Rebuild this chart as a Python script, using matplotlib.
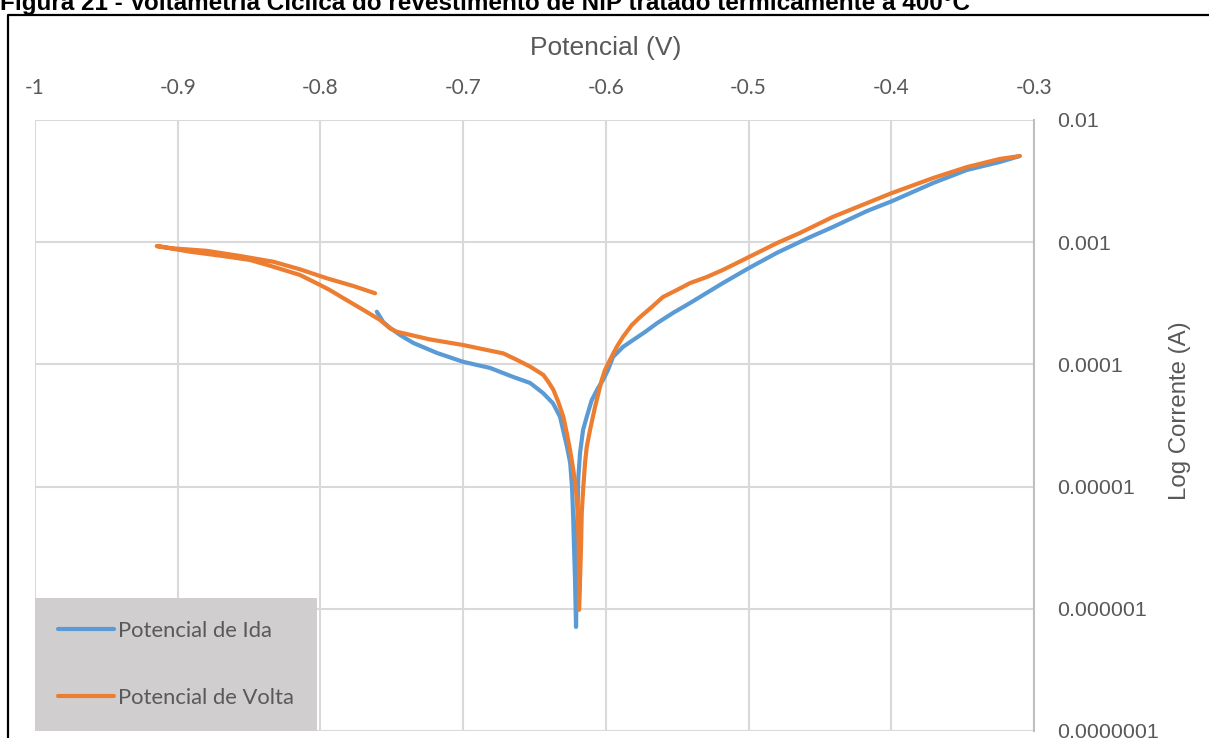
import matplotlib
matplotlib.use('Agg')
import matplotlib.pyplot as plt
from matplotlib.lines import Line2D
from matplotlib.ticker import FixedLocator, FixedFormatter

# forward sweep (ida): potential in V, current in A
ida_v = [-0.7605, -0.756, -0.7512, -0.7442, -0.735, -0.7183, -0.700, -0.6811, -0.665,
         -0.6531, -0.644, -0.637, -0.6321, -0.6272, -0.625, -0.6237, -0.623, -0.6223,
         -0.6216, -0.6209, -0.6204, -0.620, -0.6194, -0.6181, -0.616, -0.6134, -0.6099,
         -0.6055, -0.602, -0.5985, -0.595, -0.588, -0.581, -0.5726, -0.564, -0.5529,
         -0.541, -0.518, -0.4997, -0.480, -0.457, -0.441, -0.417, -0.3994, -0.3707,
         -0.347, -0.324, -0.310]
ida_i = [2.70e-4, 2.22e-4, 1.99e-4, 1.74e-4, 1.50e-4, 1.24e-4, 1.05e-4, 9.35e-5, 7.9e-5,
         7.05e-5, 5.83e-5, 4.8e-5, 3.72e-5, 2.11e-5, 1.56e-5, 9.9e-6, 6.1e-6, 3.2e-6,
         1.72e-6, 7.1e-7, 1.72e-6, 4.4e-6, 1.13e-5, 1.88e-5, 2.9e-5, 3.72e-5, 5.1e-5,
         6.4e-5, 7.45e-5, 9.0e-5, 1.15e-4, 1.39e-4, 1.58e-4, 1.84e-4, 2.18e-4, 2.64e-4,
         3.18e-4, 4.63e-4, 6.15e-4, 8.2e-4, 1.10e-3, 1.33e-3, 1.80e-3, 2.17e-3, 3.05e-3,
         3.90e-3, 4.53e-3, 5.07e-3]

# reverse sweep (volta)
volta_v = [-0.310, -0.324, -0.347, -0.3707, -0.3994, -0.417, -0.441, -0.464, -0.480,
           -0.4997, -0.518, -0.5293, -0.541, -0.5503, -0.560, -0.5678, -0.576, -0.5818,
           -0.588, -0.5924, -0.5971, -0.6006, -0.6029, -0.6076, -0.6111, -0.6134, -0.6146,
           -0.6158, -0.6169, -0.6174, -0.6181, -0.6188, -0.6188, -0.619, -0.6197, -0.6209,
           -0.6228, -0.6251, -0.6274, -0.6298, -0.6333, -0.6368, -0.6403, -0.6438, -0.6531,
           -0.6624, -0.6718, -0.6858, -0.6999, -0.7232, -0.7465, -0.7512, -0.7582, -0.7699,
           -0.7833, -0.7933, -0.8003, -0.8143, -0.8332, -0.8493, -0.8683, -0.8914, -0.9147,
           -0.9031, -0.8797, -0.8563, -0.833, -0.8143, -0.7956, -0.7769, -0.7617]
volta_i = [5.07e-3, 4.80e-3, 4.12e-3, 3.35e-3, 2.53e-3, 2.09e-3, 1.61e-3, 1.19e-3, 9.85e-4,
           7.57e-4, 5.93e-4, 5.19e-4, 4.63e-4, 4.06e-4, 3.56e-4, 2.95e-4, 2.44e-4, 2.10e-4,
           1.68e-4, 1.39e-4, 1.09e-4, 9.0e-5, 7.45e-5, 4.48e-5, 2.9e-5, 2.11e-5, 1.56e-5,
           9.9e-6, 6.1e-6, 3.2e-6, 1.72e-6, 9.8e-7, 1.72e-6, 3.2e-6, 6.1e-6, 9.4e-6,
           1.37e-5, 2.0e-5, 2.75e-5, 3.72e-5, 4.92e-5, 6.2e-5, 7.2e-5, 8.2e-5, 9.6e-5,
           1.09e-4, 1.23e-4, 1.33e-4, 1.44e-4, 1.60e-4, 1.85e-4, 1.97e-4, 2.31e-4, 2.79e-4,
           3.45e-4, 4.05e-4, 4.47e-4, 5.39e-4, 6.31e-4, 7.15e-4, 7.71e-4, 8.36e-4, 9.3e-4,
           8.9e-4, 8.5e-4, 7.71e-4, 6.92e-4, 6.0e-4, 5.07e-4, 4.38e-4, 3.82e-4]

x_ticks = [-1, -0.9, -0.8, -0.7, -0.6, -0.5, -0.4, -0.3]
x_tick_labels = ['-1', '-0.9', '-0.8', '-0.7', '-0.6', '-0.5', '-0.4', '-0.3']
y_ticks = [1e-7, 1e-6, 1e-5, 1e-4, 1e-3, 1e-2]
y_tick_labels = ['0.0000001', '0.000001', '0.00001', '0.0001', '0.001', '0.01']

TXT = '#595959'
GRID = '#D9D9D9'

fig = plt.figure(figsize=(12.09, 7.38), dpi=100)
ax = fig.add_axes([35 / 1209, 1 - 731 / 738, 999 / 1209, 611 / 738])

ax.plot(ida_v, ida_i, color='#5B9BD5', lw=3, solid_capstyle='round',
        solid_joinstyle='round', label='Potencial de Ida')
ax.plot(volta_v, volta_i, color='#ED7D31', lw=3, solid_capstyle='round',
        solid_joinstyle='round', label='Potencial de Volta')

ax.set_yscale('log')
ax.set_xlim(-1, -0.3)
ax.set_ylim(1e-7, 1e-2)

ax.xaxis.tick_top()
ax.xaxis.set_label_position('top')
ax.xaxis.set_major_locator(FixedLocator(x_ticks))
ax.xaxis.set_major_formatter(FixedFormatter(x_tick_labels))
ax.yaxis.tick_right()
ax.yaxis.set_label_position('right')
ax.yaxis.set_major_locator(FixedLocator(y_ticks))
ax.yaxis.set_major_formatter(FixedFormatter(y_tick_labels))
ax.yaxis.set_minor_locator(FixedLocator([]))

ax.tick_params(axis='x', length=0, pad=16, labelsize=15, labelcolor=TXT)
ax.tick_params(axis='y', length=0, pad=17, labelsize=15.4, labelcolor=TXT)
for lbl in ax.get_xticklabels():
    lbl.set_family('Lato')
for lbl in ax.get_yticklabels():
    lbl.set_family('Liberation Sans')

ax.set_xlabel('Potencial (V)', fontsize=19, color=TXT, family='Liberation Sans')
ax.xaxis.set_label_coords((606 - 35) / 999, (731 - 48) / 611, transform=ax.transAxes)
ax.set_ylabel('Log Corrente (A)', fontsize=17.3, color=TXT, family='Liberation Sans')
ax.yaxis.set_label_coords((1180 - 35) / 999, (731 - 411) / 611, transform=ax.transAxes)
ax.xaxis.label.set_va('center')
ax.yaxis.label.set_va('center')

ax.grid(True, color=GRID, lw=1.5)
ax.set_axisbelow(True)
for side in ['left', 'top', 'bottom']:
    ax.spines[side].set_visible(False)
ax.spines['right'].set_color('#BFBFBF')
ax.spines['right'].set_linewidth(1.5)

leg = ax.legend(loc='lower left', bbox_to_anchor=(0, 0), borderaxespad=0,
                prop={'family': 'Lato', 'size': 15.8}, handlelength=2.55, handletextpad=0.2,
                labelspacing=2.15, borderpad=1.05, fancybox=False, framealpha=1)
leg.get_frame().set_facecolor('#D0CECE')
leg.get_frame().set_edgecolor('none')
for t in leg.get_texts():
    t.set_color(TXT)

# outer frame of the figure
fig.add_artist(Line2D([8 / 1209, 8 / 1209, 1], [0, 1 - 14.5 / 738, 1 - 14.5 / 738],
                      transform=fig.transFigure, color='black', lw=1.6))

fig.text(0, 1 - 9.6 / 738, 'Figura 21 - Voltametria Cíclica do revestimento de NiP tratado termicamente a 400°C',
         family='Liberation Sans', weight='bold', fontsize=17.5, ha='left', va='baseline', color='black')

fig.savefig('out.png', dpi=100)
